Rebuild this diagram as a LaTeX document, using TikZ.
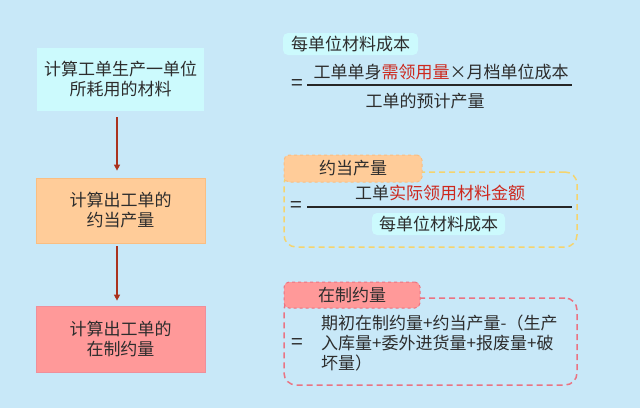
\documentclass[tikz,border=0pt]{standalone}
\usepackage{fontspec}
\setmainfont{Noto Sans CJK SC}
\usetikzlibrary{arrows.meta}
\definecolor{bgblue}{RGB}{200,232,248}
\definecolor{cyanbox}{RGB}{204,250,253}
\definecolor{orangebox}{RGB}{255,204,153}
\definecolor{orangeline}{RGB}{250,190,130}
\definecolor{pinkbox}{RGB}{255,153,153}
\definecolor{pinkline}{RGB}{235,115,130}
\definecolor{yellowdash}{RGB}{245,212,110}
\definecolor{arrowred}{RGB}{170,50,30}
\definecolor{txt}{RGB}{45,45,45}
\definecolor{hl}{RGB}{205,40,30}
\tikzset{
  every node/.style={font=\fontsize{17}{20}\selectfont, text=txt},
  stepbox/.style={minimum width=168pt, minimum height=64pt, align=center, inner sep=0pt},
  flowarrow/.style={draw=arrowred, line width=1.4pt, -{Triangle[length=6pt,width=6pt]}},
  tagbox/.style={rounded corners=5pt, inner sep=0pt},
  dashbox/.style={dashed, dash pattern=on 6pt off 4pt, line width=1.5pt, rounded corners=12pt, inner sep=0pt},
  fracline/.style={draw=black!85, line width=1.5pt},
  plain/.style={inner sep=0pt},
  eqsign/.style={inner sep=0pt, font=\fontsize{21}{21}\selectfont}
}
\begin{document}
\begin{tikzpicture}[x=1pt,y=-1pt]
\fill[bgblue] (0,0) rectangle (640,408);
\useasboundingbox (0,0) rectangle (640,408);

% left flow
\node[stepbox, fill=cyanbox, minimum width=167pt, minimum height=63pt] (b1) at (120.5,79.5) {计算工单生产一单位\\所耗用的材料};
\node[stepbox, fill=orangebox, draw=orangeline, line width=0.8pt, minimum width=169pt, minimum height=65pt] (b2) at (120.5,210.5) {计算出工单的\\约当产量};
\node[stepbox, fill=pinkbox, draw=pinkline!80, line width=0.8pt, minimum width=169pt, minimum height=66pt] (b3) at (120.5,339) {计算出工单的\\在制约量};
\draw[flowarrow, shorten <=6pt, shorten >=7pt] ([xshift=-3.5pt]b1.south) -- ([xshift=-3.5pt]b2.north);
\draw[flowarrow, shorten <=3pt, shorten >=5pt] ([xshift=-3.5pt]b2.south) -- ([xshift=-3.5pt]b3.north);

% section 1
\node[tagbox, fill=cyanbox, minimum width=135pt, minimum height=22pt] (t1) at (350.5,44) {每单位材料成本};
\node[eqsign] (eq1) at (297,85) {=};
\node[plain] (n1) at (441,72) {工单单身\textcolor{hl}{需领用量}×月档单位成本};
\node[plain] (d1) at (425,101) {工单的预计产量};
\coordinate (f1a) at (307,85);
\coordinate (f1b) at (572,85);
\draw[fracline] (f1a) -- (f1b);

% section 2
\node[dashbox, draw=yellowdash, minimum width=293pt, minimum height=75pt] (box2) at (430.5,209.5) {};
\node[tagbox, fill=orangebox, draw=orangeline, dashed, line width=1pt, minimum width=138pt, minimum height=27pt] (t2) at (353,168.5) {约当产量};
\node[eqsign] (eq2) at (296,207) {=};
\node[plain] (n2) at (440,193) {工单\textcolor{hl}{实际领用材料金额}};
\node[tagbox, fill=cyanbox, minimum width=133pt, minimum height=22pt] (d2) at (438.5,224) {每单位材料成本};
\coordinate (f2a) at (307,207);
\coordinate (f2b) at (572,207);
\draw[fracline] (f2a) -- (f2b);

% section 3
\node[dashbox, draw=pinkline, minimum width=293pt, minimum height=87pt] (box3) at (430.5,341.5) {};
\node[tagbox, fill=pinkbox, draw=pinkline, dashed, line width=1pt, minimum width=136pt, minimum height=26pt] (t3) at (352,295) {在制约量};
\node[eqsign] (eq3) at (297,344) {=};
\node[plain, anchor=west, align=left] (body3) at (321,343) {期初在制约量+约当产量-（生产\\入库量+委外进货量+报废量+破\\坏量）};
\end{tikzpicture}
\end{document}
